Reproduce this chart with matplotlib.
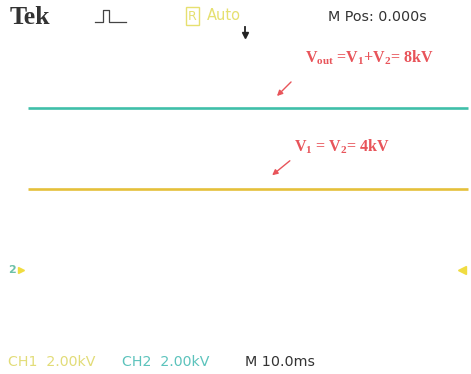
import matplotlib
matplotlib.use("Agg")
import matplotlib.pyplot as plt
from matplotlib.lines import Line2D

plt.rcParams["mathtext.fontset"] = "custom"
plt.rcParams["mathtext.rm"] = "Liberation Serif:bold"
plt.rcParams["mathtext.it"] = "Liberation Serif:bold"
plt.rcParams["mathtext.bf"] = "Liberation Serif:bold"
plt.rcParams["mathtext.default"] = "rm"

time_ms = [0, 25, 50, 75, 100]
ch1_kv = [4.0, 4.0, 4.0, 4.0, 4.0]      # V1 = V2 = 4 kV (yellow)
ch2_kv = [8.0, 8.0, 8.0, 8.0, 8.0]      # Vout = 8 kV (cyan)
ch1_label = "CH1  2.00kV"
ch2_label = "CH2  2.00kV"
time_label = "M 10.0ms"
mpos_label = "M Pos: 0.000s"
ann_out = r"V$_{\mathrm{out}}$ =V$_1$+V$_2$= 8kV"
ann_in = r"V$_1$ = V$_2$= 4kV"

W, H = 471, 374
fig = plt.figure(figsize=(W / 100, H / 100), dpi=100)
ax = fig.add_axes([0, 0, 1, 1])
ax.set_axis_off()

px_per_ms = 4.4
x0_px = 28
ax.set_xlim(-x0_px / px_per_ms, (W - x0_px) / px_per_ms)
px_per_kv = 20.2
y0_px = 270
ax.set_ylim(-(H - y0_px) / px_per_kv, y0_px / px_per_kv)

yellow = "#e5c03a"
cyan = "#3fbfa9"
red = "#e8545a"

ax.plot(time_ms, ch2_kv, color=cyan, lw=1.9, solid_capstyle="butt")
ax.plot(time_ms, ch1_kv, color=yellow, lw=1.9, solid_capstyle="butt")

def fx(px):
    return px / W

def fy(py):
    return 1 - py / H

# header
fig.text(fx(10), fy(17), "Tek", fontsize=18.5, fontweight="bold",
         family="Liberation Serif", color="#333333", va="center", ha="left")
# pulse icon
px_ = [95, 103, 103, 109, 109, 114, 114, 126]
py_ = [22, 22, 10, 10, 22, 22, 22, 22]
fig.add_artist(Line2D([fx(p) for p in px_], [fy(p) for p in py_],
                      color="#444444", lw=0.9))
fig.text(fx(188), fy(16), "R", fontsize=9, color="#e6e070", va="center", ha="left",
         bbox=dict(boxstyle="square,pad=0.2", fc="none", ec="#e6e070", lw=1.0))
fig.text(fx(207), fy(16), "Auto", fontsize=10.5, color="#e6e070", va="center", ha="left")
fig.text(fx(328), fy(17), mpos_label, fontsize=10.3, color="#333333",
         va="center", ha="left", family="DejaVu Sans")
# trigger position arrow
fig.add_artist(Line2D([fx(245), fx(245)], [fy(27), fy(33)], color="#222222", lw=1.3))
fig.add_artist(Line2D([fx(245)], [fy(35)], marker="v", ms=5, color="#222222"))

# annotations
fig.text(fx(305), fy(58), ann_out, fontsize=11.5, color=red, family="Liberation Serif",
         fontweight="bold", va="center", ha="left")
fig.text(fx(294), fy(147), ann_in, fontsize=11.5, color=red, family="Liberation Serif",
         fontweight="bold", va="center", ha="left")
ax.annotate("", xy=(fx(275), fy(98)), xytext=(fx(293), fy(80)),
            xycoords="figure fraction", textcoords="figure fraction",
            arrowprops=dict(arrowstyle="-|>", color=red, lw=1.0, mutation_scale=8))
ax.annotate("", xy=(fx(270), fy(177)), xytext=(fx(292), fy(159)),
            xycoords="figure fraction", textcoords="figure fraction",
            arrowprops=dict(arrowstyle="-|>", color=red, lw=1.0, mutation_scale=8))

# ground markers
fig.text(fx(8), fy(270), "2", fontsize=8, color="#6cc0a8", va="center", ha="left",
         fontweight="bold")
fig.add_artist(Line2D([fx(21)], [fy(270)], marker=">", ms=5, color="#f0dc40"))
fig.add_artist(Line2D([fx(462)], [fy(270)], marker="<", ms=6, color="#f0dc40"))

# footer
fig.text(fx(8), fy(362), ch1_label, fontsize=10.2, color="#e2dc78", va="center", ha="left")
fig.text(fx(122), fy(362), ch2_label, fontsize=10.2, color="#5cc3bc", va="center", ha="left")
fig.text(fx(245), fy(362), time_label, fontsize=10.3, color="#333333", va="center", ha="left")

fig.savefig("out.png", dpi=100)
